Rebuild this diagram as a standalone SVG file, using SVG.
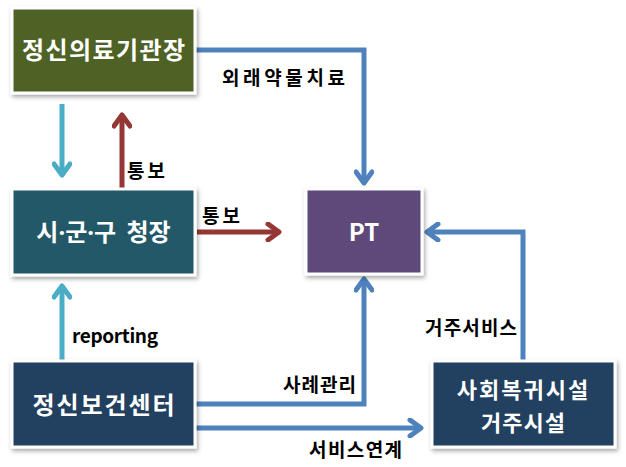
<svg xmlns="http://www.w3.org/2000/svg" width="626" height="467" viewBox="0 0 626 467">
<defs>
<filter id="sh" x="-10%" y="-10%" width="125%" height="130%">
<feDropShadow dx="1.5" dy="2.5" stdDeviation="2" flood-color="#000" flood-opacity="0.35"/>
</filter>
<marker id="ab" viewBox="0 0 20 20" refX="15" refY="10" markerWidth="20" markerHeight="20" markerUnits="userSpaceOnUse" orient="auto">
<path d="M4,2 L15,10 L4,18" fill="none" stroke="#4F81BD" stroke-width="5" stroke-linecap="round" stroke-linejoin="round"/>
</marker>
<marker id="ac" viewBox="0 0 20 20" refX="15" refY="10" markerWidth="20" markerHeight="20" markerUnits="userSpaceOnUse" orient="auto">
<path d="M4,2 L15,10 L4,18" fill="none" stroke="#4BACC6" stroke-width="5" stroke-linecap="round" stroke-linejoin="round"/>
</marker>
<marker id="ar" viewBox="0 0 20 20" refX="15" refY="10" markerWidth="20" markerHeight="20" markerUnits="userSpaceOnUse" orient="auto">
<path d="M4,2 L15,10 L4,18" fill="none" stroke="#953735" stroke-width="5" stroke-linecap="round" stroke-linejoin="round"/>
</marker>
</defs>
<style>
.box{stroke:#fff;stroke-width:3;filter:url(#sh)}
.bt{font-family:"Noto Sans CJK KR","Noto Sans",sans-serif;font-weight:bold;font-size:24px;fill:#fff;text-anchor:middle}
.dot{font-family:"Noto Sans",sans-serif}
.lb{font-family:"Noto Sans CJK KR","Noto Sans",sans-serif;font-weight:bold;font-size:19px;fill:#000}
.cb{fill:none;stroke:#4F81BD;stroke-width:5;stroke-linejoin:miter}
.cc{fill:none;stroke:#4BACC6;stroke-width:5}
.cr{fill:none;stroke:#953735;stroke-width:5}
</style>
<rect width="626" height="467" fill="#fff"/>
<g id="connectors">
<path class="cb" d="M196,50 L364,50 L364,183" marker-end="url(#ab)"/>
<path class="cc" d="M62,104 L62,175" marker-end="url(#ac)"/>
<path class="cr" d="M122,188 L122,115" marker-end="url(#ar)"/>
<path class="cr" d="M197,232 L279,232" marker-end="url(#ar)"/>
<path class="cc" d="M62,361 L62,286" marker-end="url(#ac)"/>
<path class="cb" d="M196,404 L364,404 L364,279" marker-end="url(#ab)"/>
<path class="cb" d="M196,428 L421,428" marker-end="url(#ab)"/>
<path class="cb" d="M523,360 L523,232 L427,232" marker-end="url(#ab)"/>
<text class="lb" x="222" y="85" textLength="123" lengthAdjust="spacing">외래약물치료</text>
<text class="lb" x="127" y="178" textLength="38" lengthAdjust="spacing">통보</text>
<text class="lb" x="202" y="223" textLength="38" lengthAdjust="spacing">통보</text>
<text class="lb" x="72" y="343" textLength="86" lengthAdjust="spacing">reporting</text>
<text class="lb" x="283" y="392" textLength="73" lengthAdjust="spacing">사례관리</text>
<text class="lb" x="309" y="457" textLength="93" lengthAdjust="spacing">서비스연계</text>
<text class="lb" x="425" y="335" textLength="92" lengthAdjust="spacing">거주서비스</text>
</g>
<g id="node-hospital">
<rect class="box" x="12" y="8" width="183" height="85" fill="#4F6228"/>
<text class="bt" x="103.5" y="59" textLength="163" lengthAdjust="spacing">정신의료기관장</text>
</g>
<g id="node-mayor">
<rect class="box" x="12" y="189" width="183" height="86" fill="#215967"/>
<text class="bt" x="103.5" y="241">시<tspan class="dot">·</tspan>군<tspan class="dot">·</tspan>구 <tspan dx="5">청장</tspan></text>
</g>
<g id="node-pt">
<rect class="box" x="306" y="189" width="116" height="85" fill="#5F497A"/>
<text class="bt" x="364" y="241">PT</text>
</g>
<g id="node-center">
<rect class="box" x="12" y="361" width="183" height="86" fill="#243F60"/>
<text class="bt" x="103.5" y="414" textLength="142" lengthAdjust="spacing">정신보건센터</text>
</g>
<g id="node-facility">
<rect class="box" x="432" y="361" width="183" height="86" fill="#243F60"/>
<text class="bt" style="font-size:22px"><tspan x="523.5" y="398" letter-spacing="2">사회복귀시설</tspan><tspan x="523.5" y="431" letter-spacing="1">거주시설</tspan></text>
</g>
</svg>
